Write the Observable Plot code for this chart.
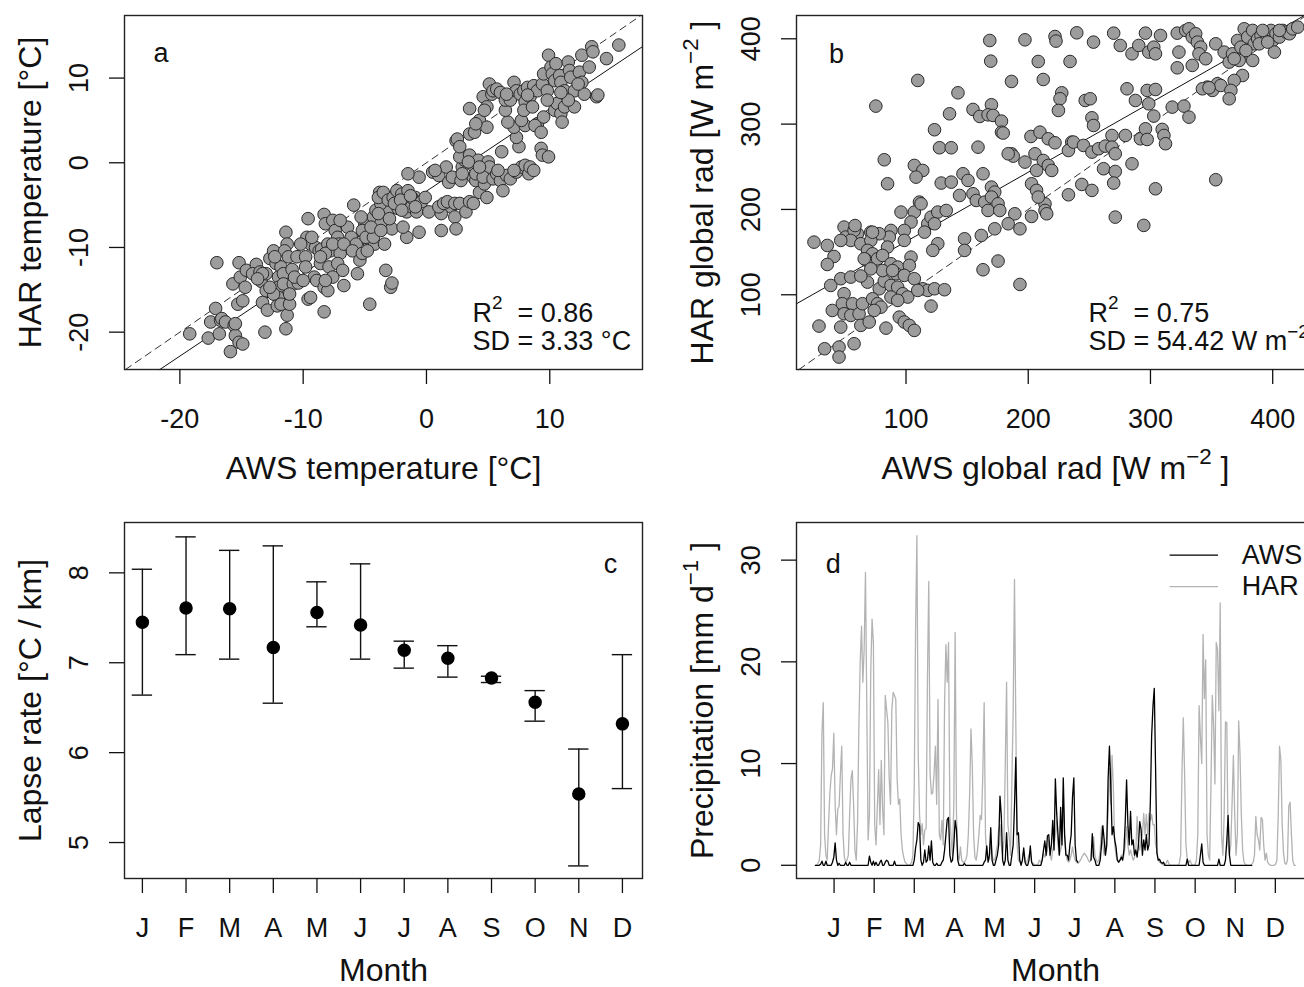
<!DOCTYPE html>
<html><head><meta charset="utf-8">
<script src="https://cdn.jsdelivr.net/npm/d3@7"></script>
<script src="https://cdn.jsdelivr.net/npm/@observablehq/plot@0.6"></script>
<style>
html,body{margin:0;padding:0;background:#fff;overflow:hidden}
#root{position:relative;width:1304px;height:987px;overflow:hidden;background:#fff}
.panel{position:absolute}
.panel svg{max-width:none !important}
</style></head><body><div id="root"></div>
<script>
// ---------- Panel a: daily mean temperature, AWS vs HAR [°C] ----------
const tempPairs = [
[-19.2,-20.2],[-17.7,-20.7],[-17.5,-18.8],[-17.1,-17.2],[-17.0,-11.8],[-16.7,-18.6],[-16.8,-20.2],[-16.6,-18.4],
[-16.3,-18.8],[-15.9,-22.3],[-15.6,-19.2],[-15.5,-20.4],[-15.2,-21.2],[-14.9,-21.4],[-15.7,-14.3],[-15.2,-11.8],[-15.1,-13.5],[-14.6,-12.7],[-14.7,-14.7],[-15.3,-16.7],[-14.9,-16.3],[-15.5,-19.0],[-13.8,-12.0],[-14.1,-13.1],
[-13.5,-12.9],[-13.4,-14.0],[-13.0,-15.1],[-13.3,-16.5],[-12.9,-17.4],[-13.1,-20.0],[-12.7,-11.3],[-12.4,-10.4],[-12.2,-11.9],[-11.8,-12.3],[-11.4,-8.2],[-11.3,-9.6],[-11.5,-10.4],[-12.0,-13.5],[-11.6,-13.1],[-11.2,-11.1],[-12.0,-14.7],[-12.0,-15.9],[-12.1,-16.9],[-11.3,-18.0],[-11.4,-19.6],[-12.4,-15.5],[-12.7,-14.7],[-11.6,-14.3],[-12.3,-11.1],[-13.0,-13.1],[-13.3,-13.1],[-13.7,-13.7],[-11.8,-16.7],[-11.1,-16.7],
[-10.9,-12.6],[-10.8,-14.3],[-11.1,-15.5],[-10.5,-11.1],[-10.4,-14.2],[-9.8,-11.1],[-9.8,-12.3],[-9.6,-6.6],[-9.7,-8.8],[-9.4,-9.6],[-9.0,-10.0],[-9.1,-13.5],[-8.9,-13.9],[-9.6,-16.1],[-8.3,-17.6],[-8.6,-11.9],[-8.7,-10.4],[-10.2,-9.6],[-10.7,-13.5],[-9.4,-15.9],[-10.0,-13.9],[-8.5,-10.2],[-9.3,-8.8],
[-8.3,-6.1],[-8.2,-7.2],[-8.0,-9.6],[-7.8,-10.4],[-7.9,-12.3],[-8.3,-14.7],[-8.0,-15.1],[-7.6,-6.8],[-7.4,-8.0],[-7.2,-8.8],[-7.1,-9.6],[-7.0,-10.7],[-7.2,-11.9],[-6.8,-12.7],[-6.7,-14.5],[-6.4,-7.6],[-6.1,-8.8],[-5.9,-5.0],[-5.7,-9.6],[-8.2,-10.7],[-7.6,-9.6],[-6.7,-9.6],[-7.6,-13.5],[-7.0,-6.8],[-6.0,-10.4],[-8.2,-13.9],[-8.6,-11.1],
[-5.4,-11.5],[-5.6,-13.1],[-5.0,-7.2],[-5.2,-8.0],[-5.2,-10.7],[-4.6,-16.7],[-4.6,-9.6],[-4.3,-6.4],[-4.2,-9.6],[-3.9,-7.6],[-3.7,-7.2],[-3.4,-9.6],[-3.3,-12.7],[-2.9,-14.7],[-2.8,-14.2],[-4.1,-5.6],[-3.8,-3.5],[-3.4,-4.1],[-3.1,-5.6],[-2.8,-7.8],[-3.7,-4.8],[-3.9,-4.1],[-3.5,-3.5],[-3.1,-4.4],[-4.9,-8.8],[-4.3,-8.8],[-5.3,-6.4],[-4.5,-7.6],[-4.8,-10.4],[-3.9,-6.0],[-3.0,-6.6],[-3.7,-8.0],
[-2.7,-4.1],[-2.4,-3.3],[-2.0,-3.7],[-1.5,-3.3],[-0.9,-4.1],[-0.6,-1.7],[-1.5,-1.3],[-2.3,-5.4],[-1.6,-5.8],[-1.2,-5.2],[-0.8,-5.8],[-0.6,-8.2],[-1.6,-8.8],[-1.9,-7.6],[-2.6,-4.8],[-2.1,-4.4],[-1.2,-4.1],[-0.4,-4.6],[-2.0,-5.6],[-1.3,-3.9],[-0.9,-5.2],
[-0.1,-4.1],[0.2,-5.8],[0.5,-1.1],[1.0,-1.5],[1.2,-6.0],[1.2,-8.0],[1.6,-0.5],[1.8,-2.3],[2.0,-5.2],[2.3,-6.4],[2.4,-7.8],[1.0,-5.2],[1.4,-4.8],[1.7,-4.6],[2.1,-1.7],[2.4,2.6],[2.5,2.8],[0.7,-0.9],[2.3,-4.8],
[2.7,-4.8],[2.8,-2.1],[2.9,-0.5],[3.1,0.3],[3.2,-5.8],[3.5,-4.6],[3.8,-4.8],[2.7,0.7],[3.5,0.9],[3.8,-1.7],[3.9,-0.5],[4.0,-2.1],[4.2,0.3],[4.3,-3.5],[4.5,-0.9],[4.7,-2.5],[4.9,-4.1],[5.0,0.1],[5.1,-0.5],[3.5,6.4],[3.5,3.4],[4.3,5.0],[4.9,4.2],[3.9,3.6],[4.0,4.6],[4.6,7.8],[5.1,9.3],[4.9,6.6],[4.7,6.2],[5.3,8.1],[2.9,-1.3],[3.4,0.1],[4.0,-1.3],[4.6,-1.7],[4.3,-0.5],[2.7,1.9],
[5.4,-1.9],[5.7,-1.3],[6.0,-2.1],[6.2,-3.3],[6.1,1.3],[6.5,-1.5],[6.8,-1.9],[7.3,-1.1],[7.7,-0.5],[8.0,-0.3],[7.5,1.9],[7.3,3.0],[7.1,4.2],[6.6,4.8],[6.4,6.2],[5.4,8.5],[5.7,8.7],[6.0,8.3],[6.4,7.4],[6.8,7.4],[7.1,9.5],[7.3,8.5],[7.6,8.1],[7.9,8.5],[8.0,7.2],[8.0,4.4],[7.7,5.0],[5.8,-0.9],[7.1,-0.9],[6.5,8.1],[7.9,6.2],
[8.3,-1.3],[8.4,-0.5],[8.7,-0.9],[9.3,1.7],[9.4,0.9],[9.9,0.7],[8.2,8.9],[8.4,7.8],[8.7,9.1],[9.0,8.5],[9.4,9.3],[9.5,10.5],[9.8,8.5],[9.9,12.7],[10.1,11.3],[10.2,10.5],[10.4,9.7],[10.5,11.7],[10.8,10.3],[9.0,4.6],[9.5,5.4],[10.4,6.2],[8.8,4.4],[9.3,3.6],[10.6,7.0],[9.8,7.4],[8.6,6.6],[8.2,8.0],
[10.9,9.5],[11.2,8.5],[11.5,11.9],[11.6,10.9],[11.7,10.1],[12.0,8.5],[12.4,10.7],[12.6,9.5],[12.6,12.7],[12.8,8.1],[13.2,11.3],[13.4,13.7],[13.5,13.1],[13.8,7.8],[13.9,8.0],[14.6,12.3],[15.6,13.9],[10.9,5.8],[11.0,4.8],[11.2,6.6],[12.0,6.6],[11.5,7.4],[10.9,8.3],[12.3,9.3]
];
const tempFit = {intercept: -3.35, slope: 0.974};
const tempStats = ["R^{2}  = 0.86", "SD = 3.33 °C"];

// ---------- Panel b: daily global radiation, AWS vs HAR [W m-2] ----------
const radPairs = [
[168.5,398.0],[197.3,398.8],[221.9,402.7],[222.7,397.3],[239.7,407.0],[253.4,396.1],[269.9,406.6],[275.3,392.2],[284.9,382.4],[290.4,392.2],[295.9,406.6],[298.6,384.4],[302.7,390.2],[304.1,382.4],[308.2,403.9],[321.9,406.6],[323.3,384.4],[328.8,409.8],[331.5,411.7],[334.2,402.0],[337.0,405.9],[338.4,396.1],[341.1,390.2],[339.7,382.4],[345.2,376.6],[353.4,394.1],[360.3,384.4],[364.4,372.7],[367.1,382.4],[371.2,398.0],[374.0,390.2],[372.6,374.6],[376.7,411.7],[379.5,402.0],[383.6,409.8],[383.6,374.6],[384.9,394.1],[387.7,400.0],[390.4,403.9],[394.5,405.9],[398.6,409.8],[400.0,398.0],[401.4,384.4],[402.7,405.9],[405.5,402.0],[408.2,409.8],[411.0,407.8],[413.7,405.9],[416.4,411.7],[420.5,413.7],[378.1,386.3],[368.5,376.6],[389.0,394.1],[395.9,396.1],[405.5,409.8],[391.8,409.8],[169.3,373.8],[208.2,373.4],[234.2,373.4],[321.9,366.0],[334.2,368.8],[375.3,357.0],[368.5,351.2],[186.3,350.0],[212.3,352.3],[109.6,351.2],[346.6,343.4],[354.8,347.3],[342.5,341.4],[350.7,339.5],[357.5,345.3],[365.8,339.5],[364.4,329.7],[347.9,342.6],
[75.3,321.1],[142.5,336.7],[227.4,336.7],[226.0,329.7],[246.6,327.7],[250.7,329.7],[280.8,341.4],[287.7,327.7],[297.3,339.5],[304.1,340.6],[298.6,323.8],[317.8,319.9],[327.4,321.1],[169.9,322.7],[154.8,317.2],[160.3,309.0],[167.1,310.9],[171.2,310.2],[178.1,303.5],[178.1,290.6],[179.5,289.5],[135.6,312.1],[123.3,293.4],[224.7,316.0],[252.1,307.4],[253.4,298.4],[302.7,309.4],[331.5,308.2],[202.2,285.5],[209.6,290.6],[216.4,282.8],[221.9,278.1],[235.6,278.9],[268.5,286.7],[279.5,286.7],[291.8,282.8],[295.9,294.5],[297.3,282.0],[309.6,293.8],[311.0,286.7],[312.3,277.0],
[127.4,272.3],[137.0,272.3],[158.9,273.0],[186.3,265.2],[187.7,262.5],[197.3,255.5],[205.5,265.2],[206.8,245.7],[212.3,257.4],[216.4,251.6],[219.2,245.7],[232.9,269.1],[237.0,278.9],[245.2,275.0],[252.1,267.2],[257.5,271.1],[263.0,274.2],[268.5,273.0],[271.2,265.2],[284.9,253.5],[82.2,258.2],[106.8,251.6],[113.7,245.7],[108.2,237.9],[84.9,230.1],[146.6,241.8],[150.7,234.0],[163.0,241.8],[128.8,230.9],[137.0,232.0],[169.9,226.2],[172.6,220.3],[202.7,230.1],[206.8,222.3],[243.8,229.3],[252.1,222.3],[261.6,247.7],[271.2,244.5],[269.9,230.9],[304.1,224.2],[353.4,234.8],[232.9,217.2],[183.6,265.2],
[143.8,216.4],[154.8,218.4],[157.5,210.5],[164.4,208.6],[169.9,214.5],[175.3,206.6],[167.1,198.8],[176.7,198.8],[189.0,194.9],[202.7,191.8],[213.7,206.6],[213.7,198.8],[215.1,194.9],[208.2,214.5],[183.6,183.2],[95.9,196.9],[111.0,208.6],[106.8,196.9],[104.1,185.2],[117.8,183.2],[120.5,191.0],[126.0,196.9],[132.9,198.8],[115.1,173.4],[123.3,183.2],[126.0,159.8],[121.9,152.0],[147.9,165.6],[147.9,152.0],[161.6,169.5],[172.6,177.3],[193.2,177.3],[87.7,175.4],[98.6,175.4],[86.3,167.6],[78.1,171.5],[71.2,173.4],[60.3,171.5],[49.3,179.3],[50.7,167.6],[57.5,175.4],[54.8,163.7],[63.0,159.8],[71.2,163.7],[68.5,152.0],[72.6,148.0],[84.9,155.9],[98.6,163.7],[271.2,191.0],[294.5,181.3],[58.3,181.1],[72.6,173.3],[112.3,206.6],
[24.7,161.7],[35.6,157.8],[41.1,144.9],[46.6,163.7],[35.6,135.5],[67.1,141.0],[71.2,136.3],[76.7,142.2],[80.8,146.1],[87.7,136.3],[93.2,132.4],[104.1,144.1],[102.7,134.4],[91.8,124.6],[98.6,122.7],[106.8,118.8],[113.7,107.0],[117.8,105.1],[123.3,107.0],[131.5,105.9],[163.0,129.3],[175.3,139.5],[193.2,112.1],[38.4,110.9],[46.6,118.8],[54.8,120.7],[49.3,101.2],[68.5,114.8],[78.1,107.0],[82.2,116.0],[87.7,110.9],[93.2,108.9],[97.3,101.2],[101.4,97.3],[109.6,105.1],[87.7,97.3],[120.5,86.7],[39.7,81.6],[47.9,89.5],[56.2,89.5],[49.3,77.7],[54.8,75.8],[61.6,77.7],[64.4,89.5],[72.6,95.3],[76.7,89.5],[79.5,85.5],[74.0,81.6],[63.0,64.1],[69.9,68.0],[94.5,73.8],[98.6,68.0],[102.7,64.1],[106.8,58.2],[83.6,60.9],[46.6,62.1],[28.8,63.3],[33.4,36.7],[45.2,38.7],[45.2,27.0],[57.5,42.6],[93.2,93.4],[80.8,128.4],[89.0,128.4],[65.8,142.2],[71.2,130.4],[63.0,122.0]
];
const radFit = {intercept: 81.0, slope: 0.813};
const radStats = ["R^{2}  = 0.75", "SD = 54.42 W m^{−2}"];

// ---------- Panel c: monthly lapse rate [°C / km] ----------
const monthLetters = ["J","F","M","A","M","J","J","A","S","O","N","D"];
const monthIndex = [1,2,3,4,5,6,7,8,9,10,11,12];
const lapseMean = [7.45,7.61,7.60,7.17,7.56,7.42,7.14,7.05,6.83,6.56,5.54,6.32];
const lapseLow  = [6.64,7.09,7.04,6.55,7.40,7.04,6.94,6.84,6.78,6.35,4.74,5.60];
const lapseHigh = [8.04,8.40,8.25,8.30,7.90,8.10,7.24,7.19,6.85,6.69,6.04,7.09];

// ---------- Panel d: daily precipitation [mm d-1], day of year 1..365 ----------
const monthTickDays = [15.2,45.6,76.0,106.5,136.9,167.3,197.7,228.1,258.5,289.0,319.4,349.8];
const harPrecip = [
0,0,0.2,0.5,2,13,16,3,1,0.5,4,7.1,8.8,9.5,13,6,3,5.5,5.8,9,11.7,3,0.8,0.3,0.5,1,5,8.5,9.3,6,1.5,
0.5,4.2,13.6,19.9,23.5,18,21.2,28.8,15.7,2.5,5,19,24.2,21.9,4,2,5.7,9.4,4,10.3,5.5,3,16.7,15.3,14,8.5,6,15.3,
17,16.7,16.3,8.5,6,6.5,3,1.5,0.8,0.3,0.2,0,0,0.1,0.3,1,8,23.2,32.4,11,5,3,4.1,2,3.5,3.6,18.3,27.9,9,7,7.1,
9,11.7,6,16.3,3,2.5,4.4,2,16,21.7,18,21.9,4.8,2.5,1,6,22.9,5.1,1,0.5,1.8,0.5,0.3,0.3,0.5,1,3,7,13.4,9.8,
3,0.8,0.5,1.5,3,4.9,4.5,9,16,3,1,0.5,0.6,2.5,1,0.5,0.5,1.2,2,3.5,4,2,1,2.5,9.8,18,4,2.8,1,8,15.2,
28.1,14,2,0.5,0.3,0.2,0.5,1.5,0.5,0.3,0.5,1,1.2,0.3,0.2,0.1,0,0,0.2,0.5,0.3,0.5,1.2,0.8,1,1.5,2.5,1,0.5,1.5,
2,3,4.4,2,1,1.5,2,6,3,1,0.5,0.3,0.5,1,1.8,1,0.5,0.3,0.2,0.3,0.5,0.8,1,1.2,1,0.8,0.5,0.3,0.5,1,2.8,
1,0.5,0.3,0.5,1.5,3.8,2,1,1.5,3,5,9.5,6,10.8,7.5,2,1,0.5,0.3,0.5,1,0.5,1,2,3.8,2,1,1.5,1,0.5,0.8,
1.5,4.8,2,1.5,2.5,3,5.1,3,5,3,5.1,4.4,5,4,4,2,1.5,0.5,0.3,0.2,0.1,0,0,0.2,0.5,0.2,0,0,0,0,
0,0,0,0.2,1,9,14.5,9,2,0.6,0.2,0.5,0.2,0,0,0.1,0.5,3,15.7,12.6,10,22.7,16.4,20.2,3,1,0.5,8,16.7,13.7,8,
21.9,21.2,15.2,25.8,3,1,5,14.1,14,2,1,2,6.1,10.8,5,1,3,14.2,11,5,1.5,0.3,0.1,0,0,0,0,0.1,0.3,1,
4.8,3,2.5,1.5,4.7,4.5,2,0.5,1.2,0.3,0.1,0,0,0,0,0.1,0.5,5,11.7,10.3,4,1.2,0.2,0.1,0.5,5.8,6.2,3,0.5,0,0
];
const awsPrecip = [
0,0,0,0,0.1,0.4,0,0,0.4,0,0,0,0,0.3,0.8,2.2,0.5,0,0.2,0,0,0,0,0.3,0,0,0.3,0,0,0,0,
0,0,0,0,0,0,0,0,0,0,0.9,0.3,0,0.4,0,0.3,0,0,0.3,0.5,0,0,0.3,0.5,0.4,0,0,0,
0,0.4,0,0,0,0,0,0,0,0,0,0,0,0,0,0,0.5,1.7,2.5,4.2,3.9,0.5,0,0.3,1.5,0.3,0.5,1.9,0.5,2.4,0.3,
0,0,0.2,0,0,0,0.3,0.5,1.5,3,4.5,4.7,1,0.3,0.5,2,4.4,3.5,0.5,0,0,0,0,0.2,0,0,0,0,0,0,
0,0,0,0,0,0,0,0,0.3,0.5,1.9,0.3,1,3.7,0.5,0,0,0.5,1,2,6.8,4.9,0.5,0,0.5,3.2,0.5,0,0,1,2,
5.8,10.6,3,3.2,0.5,0,0.5,1.7,0.3,0,0,0.5,1.9,0.3,0,0,0,0,0,0,0,0.5,1.5,2.4,1,2.9,3,1,2,4.4,
1.5,8.5,5.1,3,1,5.7,2,8.6,3,1,1,0.5,2,3,6.7,8.6,2,0.5,0.3,null,null,null,null,null,null,null,null,null,0.5,3.1,0.8,
0.5,0,0,0,0.5,2,3.9,2.5,1,2,8.5,11.7,8,3,3.8,2.5,1.8,0.5,0.3,0.5,0.8,0.5,1.5,4.3,8.4,4,2,5.3,2,2.5,1,
1.5,0.8,2,4.3,3.5,1,2.5,1.5,3,1.5,2,6.1,12.7,15.6,17.4,9.5,1.2,0.5,0.6,0.3,0.2,0.3,0,0,0,0,0,0,0,0,
0,0,0,0,0,0,0,0,0,0.6,0,0,0,0,0,0,0,0,0,1,2.1,0.3,0,0,0,0,0,0,0,0,0,
0,0,0.6,0,0,0,0,0.5,2.4,4.9,1,0,0,0,0,0,0,0,0,0,0,0,0,0,0,0,0,0,null,null,
null,null,null,null,null,null,null,null,null,null,null,null,null,null,null,null,null,null,null,null,null,null,null,null,null,null,null,null,null,null,null
];
const precipSeries = ["AWS","HAR"];
const precipColors = ["#000000","#b3b3b3"];
// legend placed in data coordinates (day of year, mm d-1), like R's legend(x, y)
const legendLineDays = [270, 306.7];
const legendLabelDay = 324.4;
const legendRowsMm = [30.5, 27.4];

// ---------- helpers ----------
const FONT = '"Liberation Sans", Arial, Helvetica, sans-serif';
const INK = "#111";
const TICK_FS = 27, TITLE_FS = 32;
const STYLE = {fontFamily: FONT, fontSize: "27px", color: INK, background: "transparent", overflow: "visible", maxWidth: "none"};

function abline(fit, xd, yd) {
  const a = fit.intercept, b = fit.slope;
  const x0 = Math.max(xd[0], (yd[0] - a) / b), x1 = Math.min(xd[1], (yd[1] - a) / b);
  return [{x: x0, y: a + b * x0}, {x: x1, y: a + b * x1}];
}

function supify(svg) {
  const NS = "http://www.w3.org/2000/svg";
  svg.querySelectorAll("text").forEach(t => {
    const s = t.textContent;
    if (!s.includes("^{")) return;
    const holder = t.closest("[font-size]");
    const fs = holder ? parseFloat(holder.getAttribute("font-size")) : 27;
    const raise = 0.45 * fs, small = 0.7 * fs;
    t.textContent = "";
    t.style.whiteSpace = "pre";
    let shifted = false;
    for (const p of s.split(/(\^\{[^}]*\})/)) {
      if (!p) continue;
      const ts = document.createElementNS(NS, "tspan");
      if (p.startsWith("^{")) {
        ts.textContent = p.slice(2, -1);
        ts.setAttribute("font-size", small);
        ts.setAttribute("dy", -raise);
        shifted = true;
      } else {
        ts.textContent = p;
        if (shifted) { ts.setAttribute("dy", raise); shifted = false; }
      }
      t.appendChild(ts);
    }
  });
}

function place(svg, left, top, w, h) {
  supify(svg);
  svg.style.maxWidth = "none";
  const div = document.createElement("div");
  div.className = "panel";
  div.style.left = left + "px";
  div.style.top = top + "px";
  div.style.width = w + "px";
  div.style.height = h + "px";
  div.appendChild(svg);
  document.getElementById("root").appendChild(div);
}

function axes(xTicks, yTicks, xFmt, yFmt) {
  return [
    Plot.frame({stroke: "#222", strokeWidth: 1.4}),
    Plot.axisX({ticks: xTicks, tickSize: 15, tickPadding: 24.8, fontSize: TICK_FS, tickFormat: xFmt, label: null, strokeWidth: 1.3}),
    Plot.axisY({ticks: yTicks, tickSize: 15, tickPadding: 22, tickRotate: -90, textAnchor: "middle", lineAnchor: "bottom", fontSize: TICK_FS, tickFormat: yFmt, label: null, strokeWidth: 1.3})
  ];
}
function titles(xTitle, yTitle, xdy) {
  return [
    Plot.text([xTitle], {frameAnchor: "bottom", dy: xdy, fontSize: TITLE_FS, textAnchor: "middle", lineAnchor: "middle"}),
    Plot.text([yTitle], {frameAnchor: "left", dx: -94, rotate: -90, fontSize: TITLE_FS, textAnchor: "middle", lineAnchor: "middle"})
  ];
}
function letter(s, frameAnchor, dx, dy) {
  return Plot.text([s], {frameAnchor, dx, dy, fontSize: TICK_FS, textAnchor: "middle", lineAnchor: "middle"});
}
function stats(lines, dx) {
  return [
    Plot.text([lines[0]], {frameAnchor: "bottom-left", dx, dy: -48, textAnchor: "start", lineAnchor: "bottom", fontSize: TICK_FS}),
    Plot.text([lines[1]], {frameAnchor: "bottom-left", dx, dy: -19.5, textAnchor: "start", lineAnchor: "bottom", fontSize: TICK_FS})
  ];
}
const num = d => String(d);

// ---------- Panel a ----------
const xA = [-24.49, 17.52], yA = [-24.41, 17.39];
place(Plot.plot({
  width: 660, height: 494, marginLeft: 124, marginRight: 18, marginTop: 15, marginBottom: 125,
  x: {domain: xA}, y: {domain: yA}, style: STYLE,
  marks: [
    Plot.line(abline({intercept: 0, slope: 1}, xA, yA), {x: "x", y: "y", stroke: "#333", strokeWidth: 1, strokeDasharray: "7,5"}),
    Plot.line(abline(tempFit, xA, yA), {x: "x", y: "y", stroke: "#111", strokeWidth: 1}),
    Plot.dot(tempPairs, {x: d => d[0], y: d => d[1], r: 6.3, fill: "#9c9c9c", stroke: "#2a2a2a", strokeWidth: 1}),
    ...axes([-20, -10, 0, 10], [-20, -10, 0, 10], num, num),
    ...titles("AWS temperature [°C]", "HAR temperature [°C]", 99),
    letter("a", "top-left", 36.6, 38),
    ...stats(tempStats, 348)
  ]
}), 0, 0, 660, 494);

// ---------- Panel b ----------
const xB = [10.4, 434.2], yB = [12.4, 427.3];
place(Plot.plot({
  width: 662, height: 494, marginLeft: 144, marginRight: 0, marginTop: 15, marginBottom: 125,
  x: {domain: xB}, y: {domain: yB}, style: STYLE,
  marks: [
    Plot.line(abline({intercept: 0, slope: 1}, xB, yB), {x: "x", y: "y", stroke: "#333", strokeWidth: 1, strokeDasharray: "7,5"}),
    Plot.line(abline(radFit, xB, yB), {x: "x", y: "y", stroke: "#111", strokeWidth: 1}),
    Plot.dot(radPairs, {x: d => d[0], y: d => d[1], r: 6.3, fill: "#9c9c9c", stroke: "#2a2a2a", strokeWidth: 1}),
    ...axes([100, 200, 300, 400], [100, 200, 300, 400], num, num),
    ...titles("AWS global rad [W m^{−2} ]", "HAR global rad [W m^{−2} ]", 99),
    letter("b", "top-left", 40, 38.4),
    ...stats(radStats, 292)
  ]
}), 652, 0, 662, 494);

// ---------- Panel c ----------
const capHalf = 0.233; // half width of error-bar caps, in months
const lapse = monthIndex.map((m, i) => ({m, mean: lapseMean[i], lo: lapseLow[i], hi: lapseHigh[i]}));
place(Plot.plot({
  width: 660, height: 493, marginLeft: 124, marginRight: 18, marginTop: 28, marginBottom: 109,
  x: {domain: [0.59, 12.46]}, y: {domain: [4.6, 8.56]}, style: STYLE,
  marks: [
    Plot.ruleX(lapse, {x: "m", y1: "lo", y2: "hi", stroke: "#111", strokeWidth: 1.4}),
    Plot.ruleY(lapse, {y: "hi", x1: d => d.m - capHalf, x2: d => d.m + capHalf, stroke: "#111", strokeWidth: 1.4}),
    Plot.ruleY(lapse, {y: "lo", x1: d => d.m - capHalf, x2: d => d.m + capHalf, stroke: "#111", strokeWidth: 1.4}),
    Plot.dot(lapse, {x: "m", y: "mean", r: 6, fill: "#000", stroke: "#000"}),
    ...axes(monthIndex, [5, 6, 7, 8], d => monthLetters[d - 1], num),
    ...titles("Month", "Lapse rate [°C / km]", 92),
    letter("c", "top-right", -32, 42)
  ]
}), 0, 494, 660, 493);

// ---------- Panel d ----------
const toRows = arr => arr.map((v, i) => ({day: i + 1, mm: v}));
place(Plot.plot({
  width: 662, height: 493, marginLeft: 144, marginRight: 0, marginTop: 28, marginBottom: 109,
  x: {domain: [-13.3, 379.5]}, y: {domain: [-1.3, 33.7]}, style: STYLE,
  marks: [
    Plot.line(toRows(harPrecip), {x: "day", y: "mm", stroke: precipColors[1], strokeWidth: 1.3}),
    Plot.line(toRows(awsPrecip), {x: "day", y: "mm", stroke: precipColors[0], strokeWidth: 1.3}),
    ...axes(monthTickDays, [0, 10, 20, 30], d => monthLetters[monthTickDays.indexOf(d)], num),
    ...titles("Month", "Precipitation [mm d^{−1} ]", 92),
    letter("d", "top-left", 36.7, 41.4),
    Plot.ruleY(legendRowsMm, {y: d => d, x1: legendLineDays[0], x2: legendLineDays[1], stroke: d => precipColors[legendRowsMm.indexOf(d)], strokeWidth: 1.3}),
    Plot.text(precipSeries, {x: legendLabelDay, y: d => legendRowsMm[precipSeries.indexOf(d)], textAnchor: "start", lineAnchor: "middle", fontSize: TICK_FS})
  ]
}), 652, 494, 662, 493);
</script>
</body></html>
